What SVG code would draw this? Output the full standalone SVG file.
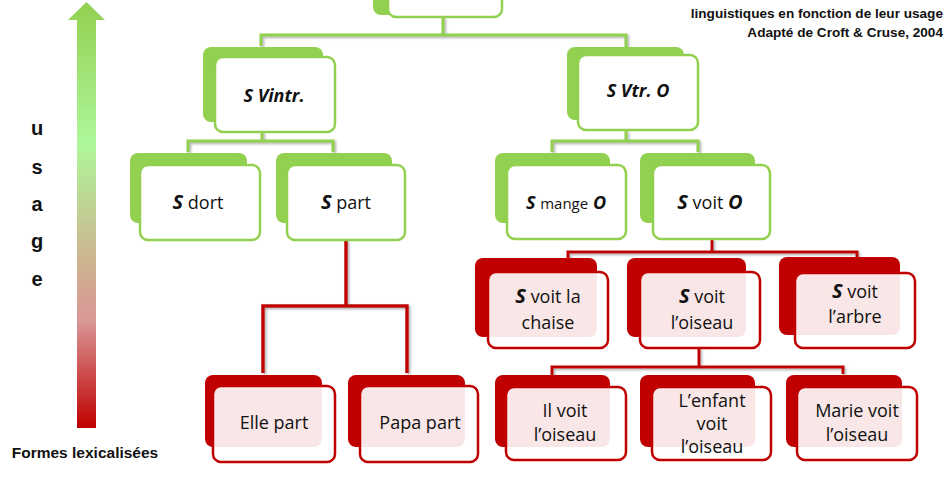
<svg xmlns="http://www.w3.org/2000/svg" width="951" height="486" viewBox="0 0 951 486">
<defs>
  <linearGradient id="usageGrad" x1="0" y1="0" x2="0" y2="1">
    <stop offset="0" stop-color="#92D050"/>
    <stop offset="0.33" stop-color="#AEF79A"/>
    <stop offset="0.6" stop-color="#CDB690"/>
    <stop offset="0.75" stop-color="#D99696"/>
    <stop offset="1" stop-color="#C00000"/>
  </linearGradient>
  <filter id="sh" x="-10%" y="-10%" width="130%" height="130%">
    <feDropShadow dx="1.5" dy="1.5" stdDeviation="1.2" flood-color="#777" flood-opacity="0.6"/>
  </filter>
</defs>
<style>
  .gback { fill: #92D050; }
  .gfront { fill: #ffffff; stroke: #92D050; stroke-width: 2.5; }
  .rback { fill: #C00000; }
  .rfront { fill: #ffffff; fill-opacity: 0.9; stroke: #C00000; stroke-width: 2.5; }
  .gline { fill: none; stroke: #92D050; stroke-width: 3; filter: url(#sh); }
  .rline { fill: none; stroke: #C00000; stroke-width: 3; filter: url(#sh); }
  text { font-family: "Open Sans", "Liberation Sans", sans-serif; fill: #111; }
  .lbl { font-size: 18px; text-anchor: middle; }
  .si { font-weight: bold; font-style: italic; }
  .hdr { font-family: "Liberation Sans", Arial, sans-serif; font-weight: bold; font-size: 13.6px; text-anchor: end; }
  .axis { font-family: "Liberation Sans", Arial, sans-serif; font-weight: bold; font-size: 20px; text-anchor: middle; }
</style>

<!-- usage arrow -->
<g id="usage-arrow">
  <polygon points="86.5,2 105,20 96,20 96,428 77,428 77,20 68,20" fill="url(#usageGrad)"/>
  <text class="axis" x="37" y="135">u</text>
  <text class="axis" x="37" y="174">s</text>
  <text class="axis" x="37" y="211">a</text>
  <text class="axis" x="37" y="248">g</text>
  <text class="axis" x="37" y="286">e</text>
  <text x="85" y="458" style="font-family:'Liberation Sans',Arial,sans-serif;font-weight:bold;font-size:15.5px;text-anchor:middle">Formes lexicalisées</text>
</g>

<!-- header -->
<g id="header">
  <text class="hdr" x="943" y="18">linguistiques en fonction de leur usage</text>
  <text class="hdr" x="943" y="37">Adapté de Croft &amp; Cruse, 2004</text>
</g>

<!-- connectors -->
<g id="connectors">
  <path class="gline" d="M443,17 V35 M261,46 V35 H626 V47"/>
  <path class="gline" d="M262,132 V141 M188,152 V141 H333 V152"/>
  <path class="gline" d="M626,130 V141 M552,152 V141 H698 V152"/>
  <path class="rline" d="M346,240 V306 M263,373 V306 H407 V373" style="stroke-width:3.5"/>
  <path class="rline" d="M712,239 V252 M568,258 V252 H857 V257"/>
  <path class="rline" d="M699,348 V367 M552,375 V367 H843 V374"/>
</g>

<!-- top node -->
<g id="node-top">
  <rect class="gback" x="373" y="-60" width="113" height="75" rx="8"/>
  <rect class="gfront" x="388" y="-50" width="114" height="67" rx="8"/>
</g>

<g id="node-vintr">
  <rect class="gback" x="203" y="47" width="120" height="75" rx="8"/>
  <rect class="gfront" x="215" y="57" width="120" height="75" rx="8"/>
  <text class="lbl si" x="274" y="102">S Vintr.</text>
</g>

<g id="node-vtr">
  <rect class="gback" x="567" y="47" width="117" height="73" rx="8"/>
  <rect class="gfront" x="578" y="55" width="120" height="75" rx="8"/>
  <text class="lbl si" x="638" y="97">S Vtr. O</text>
</g>

<g id="node-dort">
  <rect class="gback" x="130" y="153" width="117" height="70" rx="8"/>
  <rect class="gfront" x="140" y="165" width="120" height="75" rx="8"/>
  <text class="lbl" x="198" y="209"><tspan class="si" font-size="20">S</tspan> dort</text>
</g>

<g id="node-part">
  <rect class="gback" x="276" y="153" width="116" height="70" rx="8"/>
  <rect class="gfront" x="287" y="165" width="118" height="75" rx="8"/>
  <text class="lbl" x="346" y="209"><tspan class="si" font-size="20">S</tspan> part</text>
</g>

<g id="node-mange">
  <rect class="gback" x="495" y="153" width="115" height="70" rx="8"/>
  <rect class="gfront" x="507" y="165" width="119" height="74" rx="8"/>
  <text class="lbl" x="566" y="209"><tspan class="si">S</tspan> <tspan font-size="15">mange</tspan> <tspan class="si">O</tspan></text>
</g>

<g id="node-voitO">
  <rect class="gback" x="640" y="153" width="115" height="70" rx="8"/>
  <rect class="gfront" x="653" y="165" width="117" height="74" rx="8"/>
  <text class="lbl" x="710" y="209"><tspan class="si" font-size="20">S</tspan> voit <tspan class="si" font-size="20">O</tspan></text>
</g>

<g id="node-chaise">
  <rect class="rback" x="475" y="258" width="122" height="79" rx="8"/>
  <rect class="rfront" x="488" y="272" width="120" height="76" rx="8"/>
  <text class="lbl" x="548" y="303"><tspan class="si" font-size="20">S</tspan> voit la</text>
  <text class="lbl" x="548" y="329">chaise</text>
</g>

<g id="node-oiseau">
  <rect class="rback" x="627" y="258" width="119" height="79" rx="8"/>
  <rect class="rfront" x="640" y="272" width="120" height="76" rx="8"/>
  <text class="lbl" x="702" y="303"><tspan class="si" font-size="20">S</tspan> voit</text>
  <text class="lbl" x="702" y="329">l’oiseau</text>
</g>

<g id="node-arbre">
  <rect class="rback" x="779" y="257" width="121" height="78" rx="8"/>
  <rect class="rfront" x="795" y="273" width="120" height="75" rx="8"/>
  <text class="lbl" x="855" y="298"><tspan class="si" font-size="20">S</tspan> voit</text>
  <text class="lbl" x="855" y="323">l’arbre</text>
</g>

<g id="node-elle">
  <rect class="rback" x="205" y="375" width="117" height="72" rx="8"/>
  <rect class="rfront" x="213" y="386" width="122" height="76" rx="8"/>
  <text class="lbl" x="274" y="429">Elle part</text>
</g>

<g id="node-papa">
  <rect class="rback" x="348" y="375" width="117" height="72" rx="8"/>
  <rect class="rfront" x="360" y="386" width="118" height="76" rx="8"/>
  <text class="lbl" x="420" y="429">Papa part</text>
</g>

<g id="node-il">
  <rect class="rback" x="495" y="375" width="115" height="72" rx="8"/>
  <rect class="rfront" x="506" y="387" width="120" height="73" rx="8"/>
  <text class="lbl" x="565" y="417">Il voit</text>
  <text class="lbl" x="565" y="441">l’oiseau</text>
</g>

<g id="node-enfant">
  <rect class="rback" x="640" y="375" width="115" height="72" rx="8"/>
  <rect class="rfront" x="652" y="387" width="119" height="73" rx="8"/>
  <text class="lbl" x="712" y="407">L’enfant</text>
  <text class="lbl" x="712" y="430">voit</text>
  <text class="lbl" x="712" y="453">l’oiseau</text>
</g>

<g id="node-marie">
  <rect class="rback" x="786" y="375" width="116" height="72" rx="8"/>
  <rect class="rfront" x="797" y="387" width="120" height="73" rx="8"/>
  <text class="lbl" x="857" y="417">Marie voit</text>
  <text class="lbl" x="857" y="441">l’oiseau</text>
</g>
</svg>
